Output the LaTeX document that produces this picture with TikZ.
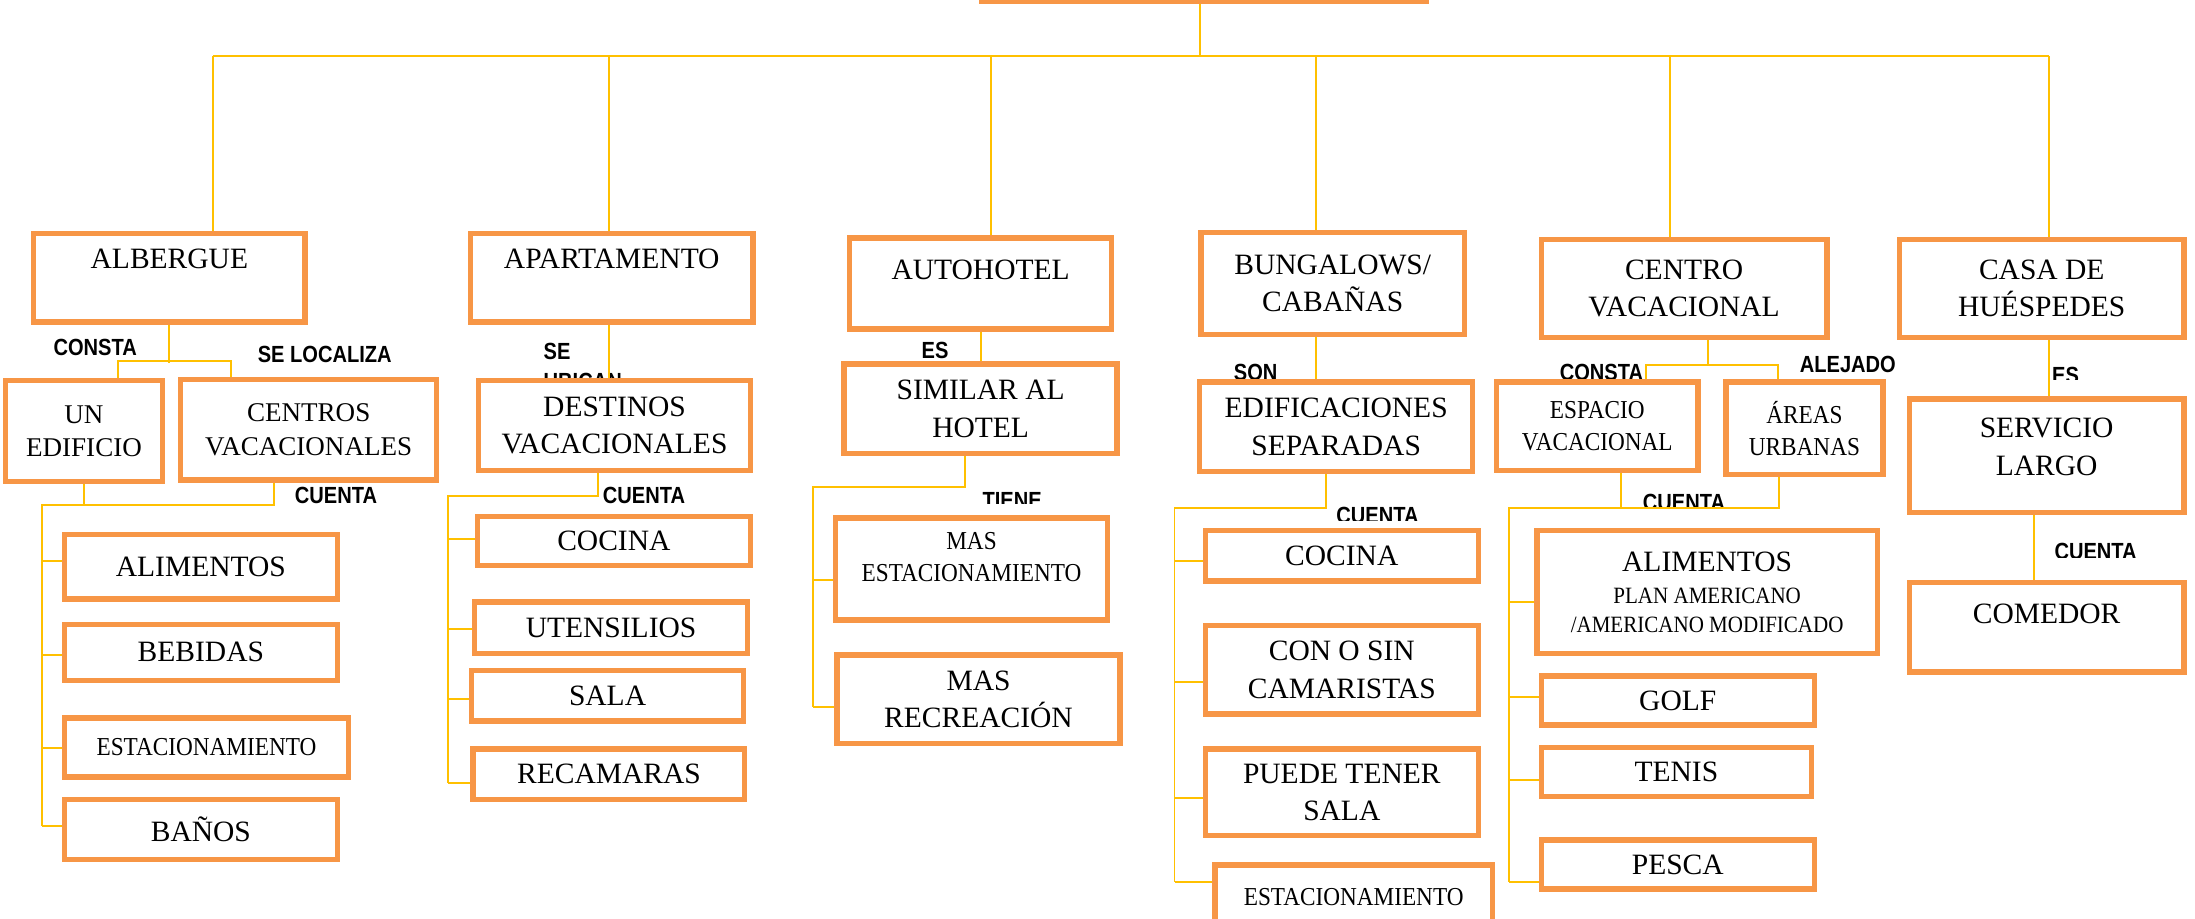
\documentclass[tikz,border=0pt]{standalone}
\usepackage{fontspec}
\setmainfont{Liberation Serif}
\newfontfamily\narrowfont{Liberation Serif}[FakeStretch=0.9]
\newfontfamily\tagfont{Liberation Sans}[FakeStretch=0.86]
\definecolor{boxorange}{HTML}{F79646}
\definecolor{linkyellow}{HTML}{FFC000}

\tikzstyle{box}=[draw=boxorange, line width=2.2pt, fill=white, align=center, inner sep=0pt, font=\fontsize{12}{15.3}\selectfont]
\tikzstyle{smalltext}=[font=\narrowfont\fontsize{10.5}{12.8}\selectfont]
\tikzstyle{midtext}=[font=\fontsize{11}{13.6}\selectfont]
\tikzstyle{tag}=[font=\tagfont\bfseries\fontsize{9.5}{10}\selectfont, inner sep=0pt, anchor=base]
\tikzstyle{link}=[draw=linkyellow, line width=0.8pt]
\tikzset{dims/.style 2 args={minimum width={(#1-4)*0.02cm}, minimum height={(#2-4)*0.02cm}}}
\newcommand{\finefont}{\narrowfont\fontsize{9.5}{11}\selectfont}
% a tag whose lower part is cut off
\newcommand{\cuttag}[5]{%
    \begin{scope}
        \clip (#2-50,#3-20) rectangle (#2+50,#4);
        \node[tag] (#1) at (#2,#3) {#5};
    \end{scope}}

\begin{document}
\begin{tikzpicture}[x=0.02cm, y=-0.02cm]
    \useasboundingbox (0,0) rectangle (1568,656);

    % First the tags, some boxes hide part of them
    \node[tag] (l-consta) at (68,254) {CONSTA};
    \node[tag] (l-localiza) at (232,259) {SE LOCALIZA};
    \node[tag, anchor=base west] (l-se) at (388,257) {SE};
    \node[tag, anchor=base west] (l-ubican) at (388,278) {UBICAN};
    \node[tag] (l-cuenta1) at (240,360) {CUENTA};
    \node[tag] (l-cuenta2) at (460,360) {CUENTA};
    \node[tag] (l-es1) at (668,256) {ES};
    \cuttag{l-tiene}{723}{363}{359.5}{TIENE}
    \node[tag] (l-son) at (897,272) {SON};
    \cuttag{l-cuenta3}{984}{374}{372}{CUENTA}
    \node[tag] (l-consta2) at (1144,272) {CONSTA};
    \node[tag] (l-alejado) at (1320,266) {ALEJADO};
    \cuttag{l-cuenta4}{1203}{365}{362}{CUENTA}
    \cuttag{l-es2}{1475.5}{274}{271}{ES}
    \cuttag{l-cuenta5}{1497}{400}{398}{CUENTA}

    % Boxes
    \node[box, dims={322}{44}] (top) at (860,-19) {};

    \node[box, dims={198}{67}] (alb) at (121,198.5) {ALBERGUE\\~};
    \node[box, dims={206}{67}] (apa) at (437,198.5) {APARTAMENTO\\~};
    \node[box, dims={191}{69}] (aut) at (700.5,202.5) {AUTOHOTEL\\[-4pt]~};
    \node[box, dims={192}{77}] (bun) at (952,202.5) {BUNGALOWS/\\CABAÑAS};
    \node[box, dims={208}{74}] (cen) at (1203,206) {CENTRO\\VACACIONAL};
    \node[box, dims={207}{74}] (cas) at (1458.5,206) {CASA DE\\HUÉSPEDES};

    \node[box, midtext, dims={116}{76}] (edificio) at (60,308) {UN\\EDIFICIO};
    \node[box, midtext, dims={187}{76}] (centros) at (220.5,307) {CENTROS\\VACACIONALES};
    \node[box, dims={198}{68}] (destinos) at (439,304) {DESTINOS\\VACACIONALES};
    \node[box, dims={199}{68}] (similar) at (700.5,292) {SIMILAR AL\\HOTEL};
    \node[box, dims={199}{68}] (separadas) at (954.5,305) {EDIFICACIONES\\SEPARADAS};
    \node[box, smalltext, dims={148}{67}] (espacio) at (1141,304.5) {ESPACIO\\VACACIONAL};
    \node[box, smalltext, dims={116}{70}] (urbanas) at (1289,306) {ÁREAS\\URBANAS};
    \node[box, dims={200}{85}] (servicio) at (1462,325.5) {SERVICIO\\LARGO\\[-8pt]~};

    \node[box, dims={199}{50}] (a-alimentos) at (143.5,405) {ALIMENTOS};
    \node[box, dims={199}{44}] (a-bebidas) at (143.5,466) {BEBIDAS};
    \node[box, smalltext, dims={207}{46}] (a-estac) at (147.5,534) {ESTACIONAMIENTO};
    \node[box, dims={199}{47}] (a-banos) at (143.5,592.5) {BAÑOS};

    \node[box, dims={199}{39}] (p-cocina) at (438.5,386.5) {COCINA};
    \node[box, dims={199}{41}] (p-utensilios) at (436.5,448.5) {UTENSILIOS};
    \node[box, dims={198}{40}] (p-sala) at (434,497) {SALA};
    \node[box, dims={198}{40}] (p-recamaras) at (435,553) {RECAMARAS};

    \node[box, smalltext, dims={198}{77}] (h-estac) at (694,406.5) {MAS\\ESTACIONAMIENTO\\[-3pt]~};
    \node[box, dims={206}{67}] (h-recreacion) at (699,499.5) {MAS\\RECREACIÓN};

    \node[box, dims={199}{40}] (b-cocina) at (958.5,397) {COCINA};
    \node[box, dims={199}{67}] (b-camaristas) at (958.5,478.5) {CON O SIN\\CAMARISTAS};
    \node[box, dims={199}{66}] (b-sala) at (958.5,566) {PUEDE TENER\\SALA};
    \node[box, smalltext, dims={202}{50}] (b-estac) at (967,641) {ESTACIONAMIENTO};

    \node[box, dims={247}{92}] (c-alimentos) at (1219.5,423) {ALIMENTOS\\[-2.3pt]{\finefont PLAN AMERICANO}\\[-3.4pt]{\finefont /AMERICANO MODIFICADO}};
    \node[box, dims={199}{39}] (c-golf) at (1198.5,500.5) {GOLF};
    \node[box, dims={197}{39}] (c-tenis) at (1197.5,551.5) {TENIS};
    \node[box, dims={199}{39}] (c-pesca) at (1198.5,617.5) {PESCA};

    \node[box, dims={200}{68}] (s-comedor) at (1462,448) {COMEDOR\\[-4pt]~};

    % Links of the first level
    \coordinate (bus) at (857,40);
    \foreach \n/\x in {alb/152, apa/435, aut/708, bun/940, cen/1193, cas/1464}
        \coordinate (drop-\n) at (\x,40);
    \draw[link] (top.south -| bus) -- (bus);
    \draw[link] (drop-alb) -- (drop-cas);
    \foreach \n in {alb,apa,aut,bun,cen,cas}
        \draw[link] (drop-\n) -- (drop-\n |- \n.north);

    % Albergue
    \draw[link] (alb.south) -- (alb.south |- 0,259.5);
    \draw[link] (edificio.north -| 84,0) -- ++(0,-12.5) -| (centros.north -| 165,0);
    \coordinate (a-bus) at (30,361);
    \draw[link] (edificio.south) -- (a-bus -| edificio.south);
    \draw[link] (centros.south -| 196,0) |- (a-bus) -- (a-bus |- 0,590);
    \foreach \n/\y in {a-alimentos/401, a-bebidas/468, a-estac/534, a-banos/590}
        \draw[link] (a-bus |- 0,\y) -- (\n.west |- 0,\y);

    % Apartamento
    \draw[link] (apa.south -| drop-apa) -- (destinos.north -| drop-apa);
    \coordinate (p-bus) at (320,354);
    \draw[link] (destinos.south -| 427,0) |- (p-bus) -- (p-bus |- 0,559);
    \foreach \n/\y in {p-cocina/385, p-utensilios/449, p-sala/499, p-recamaras/559}
        \draw[link] (p-bus |- 0,\y) -- (\n.west |- 0,\y);

    % Autohotel
    \draw[link] (aut.south) -- (similar.north);
    \coordinate (h-bus) at (581,348);
    \draw[link] (similar.south -| 689,0) |- (h-bus) -- (h-bus |- 0,505);
    \foreach \n/\y in {h-estac/414, h-recreacion/505}
        \draw[link] (h-bus |- 0,\y) -- (\n.west |- 0,\y);

    % Bungalows
    \draw[link] (bun.south -| drop-bun) -- (separadas.north -| drop-bun);
    \coordinate (b-bus) at (839,363);
    \draw[link] (separadas.south -| 947,0) |- (b-bus) -- (b-bus |- 0,630);
    \foreach \n/\y in {b-cocina/401, b-camaristas/487, b-sala/570, b-estac/630}
        \draw[link] (b-bus |- 0,\y) -- (\n.west |- 0,\y);

    % Centro vacacional
    \coordinate (c-top) at (1220,261);
    \draw[link] (cen.south -| c-top) -- (c-top);
    \draw[link] (espacio.north -| 1176,0) |- (c-top) -| (urbanas.north -| 1270,0);
    \coordinate (c-bus) at (1078,363);
    \draw[link] (espacio.south -| 1158,0) -- (c-bus -| 1158,0);
    \draw[link] (urbanas.south -| 1271,0) |- (c-bus) -- (c-bus |- 0,630);
    \foreach \n/\y in {c-alimentos/430, c-golf/498, c-tenis/557, c-pesca/630}
        \draw[link] (c-bus |- 0,\y) -- (\n.west |- 0,\y);

    % Casa de huespedes
    \draw[link] (cas.south -| drop-cas) -- (servicio.north -| drop-cas);
    \draw[link] (servicio.south -| 1453,0) -- (s-comedor.north -| 1453,0);
\end{tikzpicture}
\end{document}
